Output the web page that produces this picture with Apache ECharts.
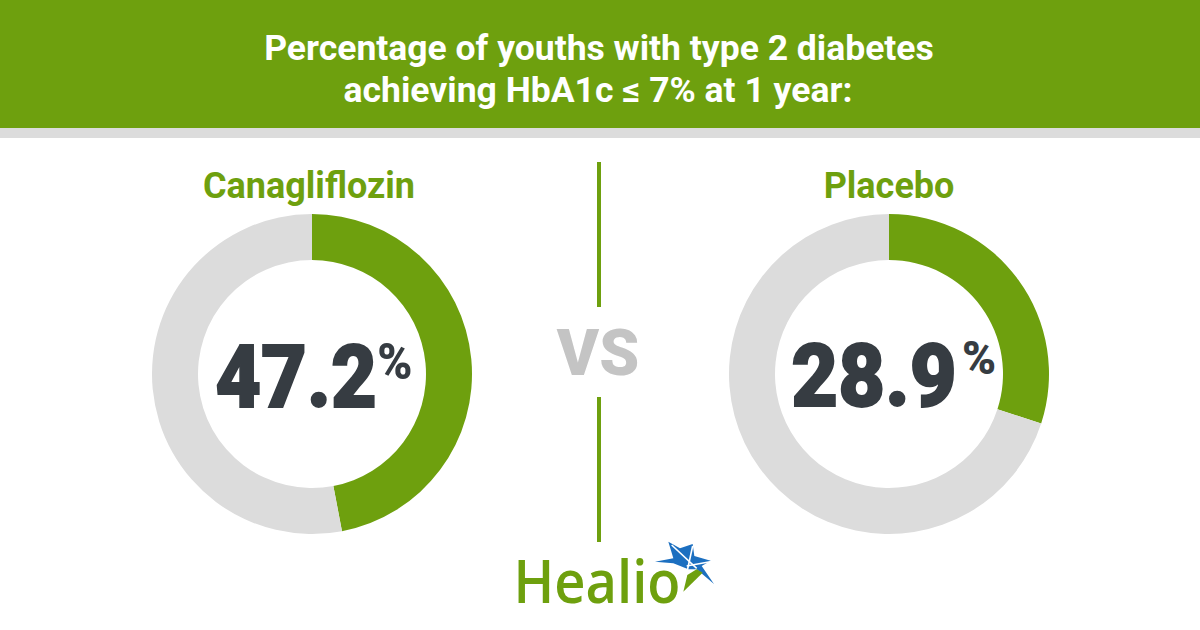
<!DOCTYPE html>
<html><head><meta charset="utf-8">
<style>html,body{margin:0;padding:0;background:#fff}#c{width:1200px;height:630px}</style>
<script src="https://cdn.jsdelivr.net/npm/echarts@6/dist/echarts.min.js"></script></head>
<body><div id="c"></div><script>
const titleLines = ["Percentage of youths with type 2 diabetes","achieving HbA1c ≤ 7% at 1 year:"];
const groups = ["Canagliflozin","Placebo"];
const labels = ["47.2","28.9"];
const achieved = [47,30];
const green="#6ea00e", grey="#dcdcdc", dark="#363c42", blue="#1c6fc0";
const font="Roboto";
const chart=echarts.init(document.getElementById('c'),null,{renderer:'svg'});
const centers=[[312,374],[889,374]];
function pie(i){return {type:'pie',silent:true,center:centers[i],radius:[114,160],startAngle:90,clockwise:true,label:{show:false},labelLine:{show:false},
 data:[{value:achieved[i],name:groups[i],itemStyle:{color:green}},{value:100-achieved[i],name:'Other',itemStyle:{color:grey}}]};}
const rect=(x,y,w,h,c)=>({type:'rect',shape:{x,y,width:w,height:h},style:{fill:c},silent:true});
const txt=(x,y,t,size,c,w,sx,extra)=>({type:'text',x,y,scaleX:sx||1,silent:true,style:Object.assign({text:t,fontFamily:font,fontSize:size,fontWeight:w||700,fill:c,align:'center',verticalAlign:'middle'},extra||{})});
const logo=(pts,c)=>({type:'polygon',silent:true,shape:{points:pts.map(p=>[500+p[0]/3,530+p[1]/3])},style:{fill:c}});
const logoLine=(a,b)=>({type:'line',silent:true,shape:{x1:500+a[0]/3,y1:530+a[1]/3,x2:500+b[0]/3,y2:530+b[1]/3},style:{stroke:'#fff',lineWidth:1.6}});
const heavy={stroke:dark,lineWidth:1.8};
chart.setOption({animation:false,series:[pie(0),pie(1)],graphic:[
 rect(0,0,1200,128,green),rect(0,128,1200,10,"#dcdcdc"),
 txt(599,48,titleLines[0],35.5,"#fff"),txt(598,90,titleLines[1],35.5,"#fff"),
 txt(309,186,groups[0],36,green),txt(889,186,groups[1],36,green),
 rect(597,162,4,145,green),rect(597,397,4,145,green),
 txt(598,353,"VS",64,"#c4c4c4",900),
 txt(296,377,labels[0],88,dark,900,0.9,heavy),txt(395,362,"%",50,dark,900,0.95),
 txt(874,376,labels[1],88,dark,900,0.92,heavy),txt(979,358,"%",46,dark,900),
 txt(597,580,"Healio",59,green,600,0.92,{fontFamily:'Open Sans'}),
 logo([[505,35],[540,55],[578,42],[583,78],[632,92],[605,108],[642,162],[590,118],[565,118],[520,100],[465,95],[520,85]],blue),
 logoLine([515,45],[590,115]),logoLine([578,48],[560,130]),logoLine([560,108],[630,95]),
 logo([[550,185],[562,135],[590,118],[608,128]],green)
]});
</script></body></html>
